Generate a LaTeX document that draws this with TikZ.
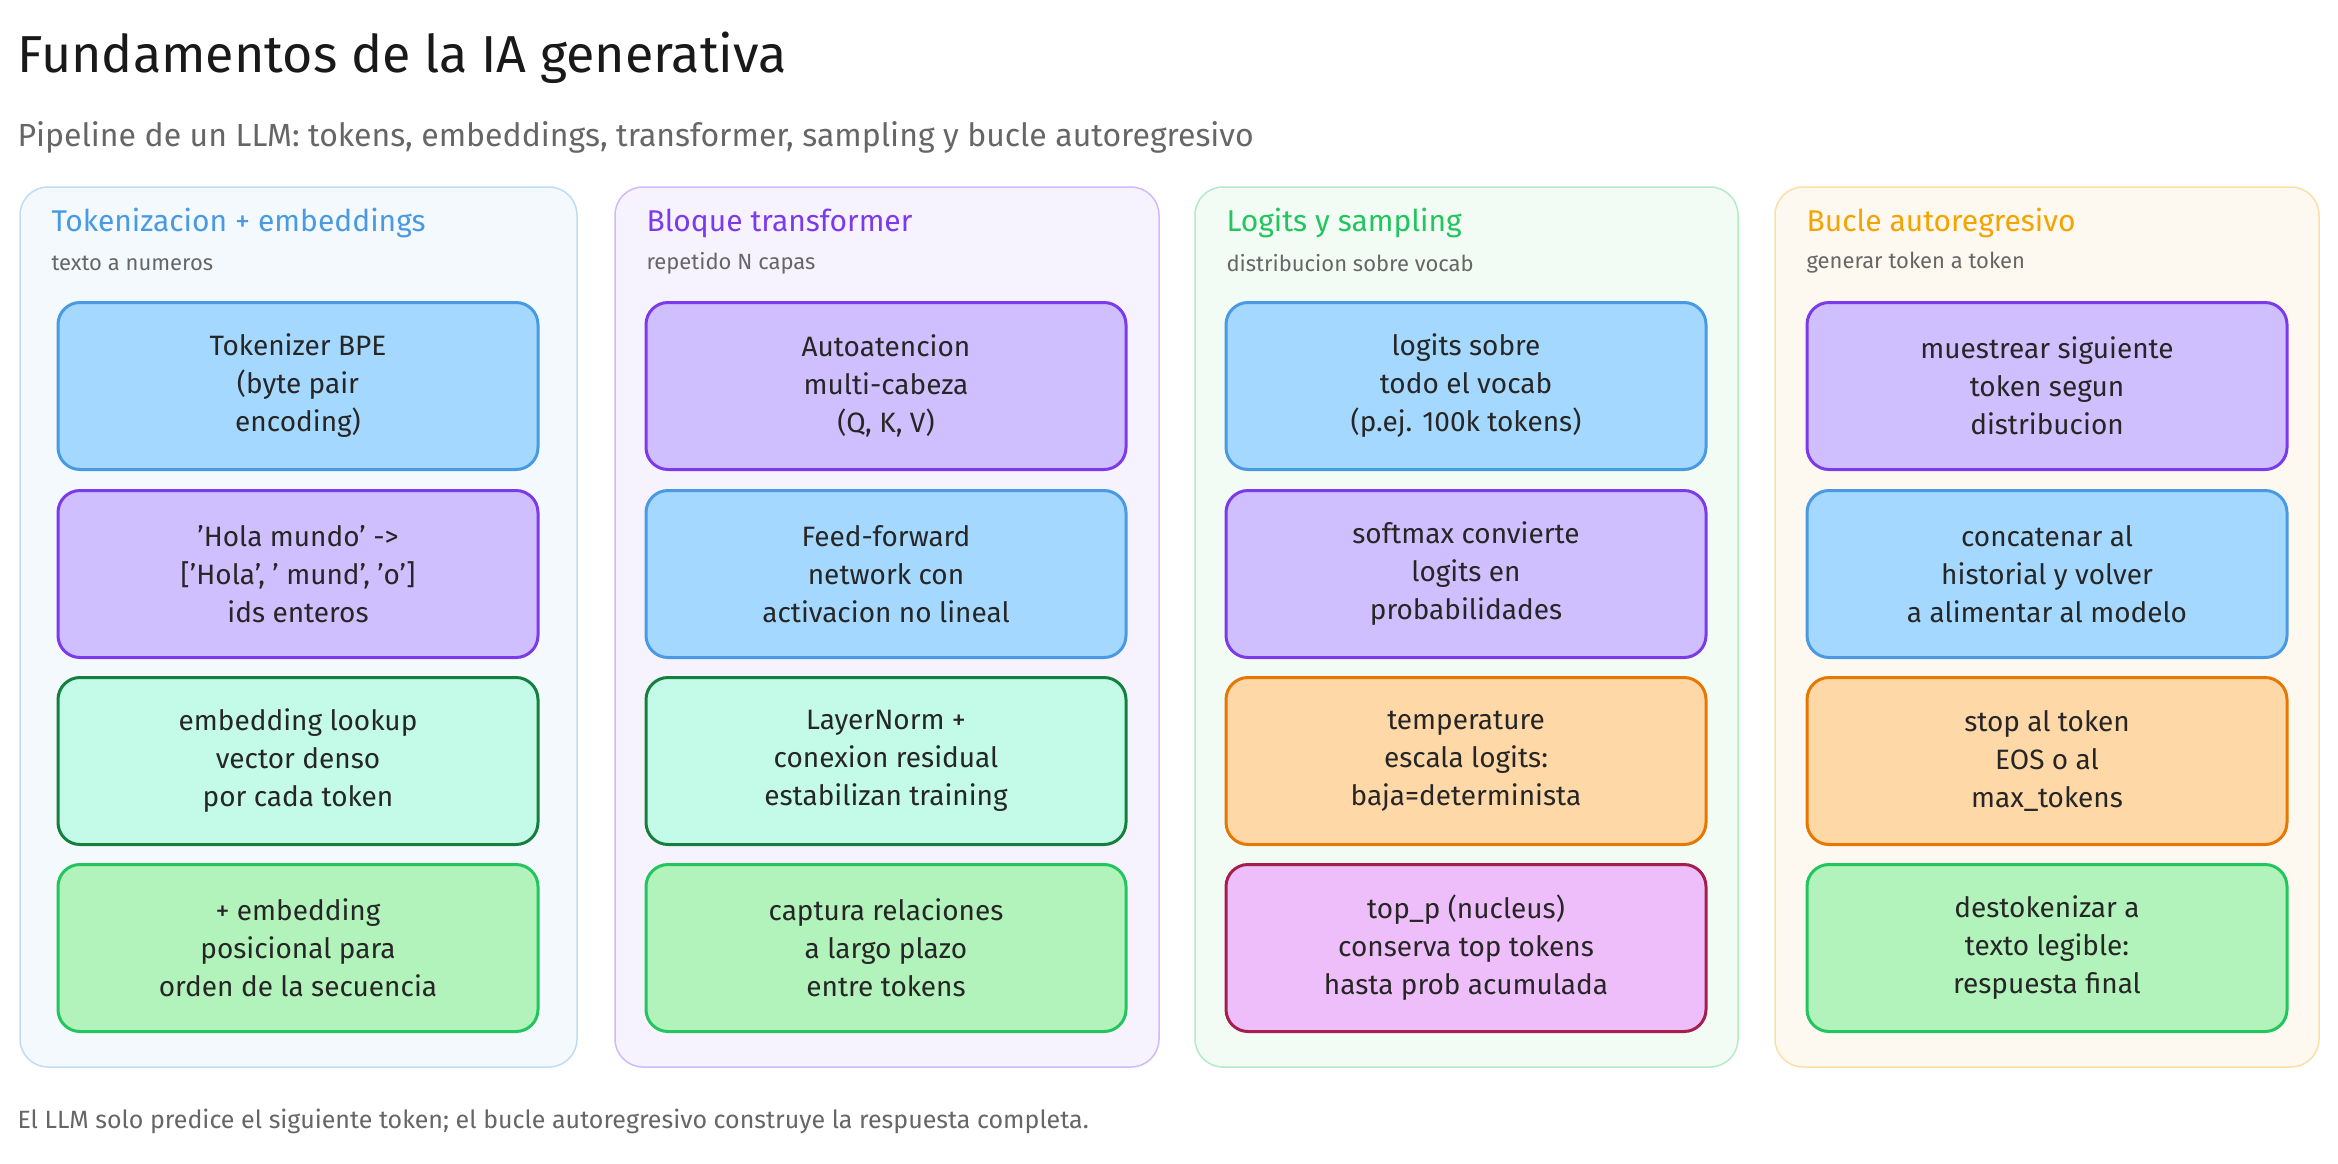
\documentclass[tikz,border=0pt]{standalone}
\usepackage{fontspec}
\setmainfont{Fira Sans}
\begin{document}
\begin{tikzpicture}[x=1pt,y=-1pt,
  col/.style={draw=#1!35, fill=#1!6, line width=1.5pt, rounded corners=28pt},
  bx/.style 2 args={draw=#1, fill=#2, line width=3pt, rounded corners=22pt, minimum width=322pt, minimum height=112pt, align=center, font=\fontsize{28}{38}\selectfont, text=black!85},
  hd/.style={anchor=west, font=\fontsize{30}{34}\selectfont, text=#1},
  sh/.style={anchor=west, font=\fontsize{22}{26}\selectfont, text=black!60}]
\definecolor{cblue}{HTML}{4A9AE3}\definecolor{fblue}{HTML}{A5D8FF}
\definecolor{cpur}{HTML}{7C3AED}\definecolor{fpur}{HTML}{D0BFFF}
\definecolor{cteal}{HTML}{15803D}\definecolor{fteal}{HTML}{C3FAE8}
\definecolor{cgrn}{HTML}{22C55E}\definecolor{fgrn}{HTML}{B2F2BB}
\definecolor{corg}{HTML}{E67700}\definecolor{forg}{HTML}{FFD8A8}
\definecolor{cpink}{HTML}{A61E4D}\definecolor{fpink}{HTML}{EEBEFA}
\definecolor{hyel}{HTML}{F5A300}
\useasboundingbox[fill=white] (0,0) rectangle (2338,1163);
\node[anchor=west, font=\fontsize{52}{58}\selectfont, text=black!90] (title) at (14,58) {Fundamentos de la IA generativa};
\node[anchor=west, font=\fontsize{32}{38}\selectfont, text=black!60] (sub) at (14,137) {Pipeline de un LLM: tokens, embeddings, transformer, sampling y bucle autoregresivo};
\node[anchor=west, font=\fontsize{25}{30}\selectfont, text=black!60] (foot) at (14,1121) {El LLM solo predice el siguiente token; el bucle autoregresivo construye la respuesta completa.};
% columns
\draw[col=cblue] (20,187) rectangle (577,1067);
\draw[col=cpur] (615,187) rectangle (1159,1067);
\draw[col=cgrn] (1195,187) rectangle (1738,1067);
\draw[col=hyel] (1775,187) rectangle (2319,1067);
\node[hd=cblue] (h1) at (48,223) {Tokenizacion + embeddings};
\node[sh] (s1) at (48,263) {texto a numeros};
\node[hd=cpur] (h2) at (643,223) {Bloque transformer};
\node[sh] (s2) at (643,263) {repetido N capas};
\node[hd=cgrn] (h3) at (1223,223) {Logits y sampling};
\node[sh] (s3) at (1223,263) {distribucion sobre vocab};
\node[hd=hyel] (h4) at (1803,223) {Bucle autoregresivo};
\node[sh] (s4) at (1803,263) {generar token a token};
\tikzset{bx/.append style={minimum width=480pt, minimum height=167pt}}
% col1
\node[bx={cblue}{fblue}] (a1) at (298,386) {Tokenizer BPE\\(byte pair\\encoding)};
\node[bx={cpur}{fpur}] (a2) at (298,574) {'Hola mundo' ->\\\relax['Hola', ' mund', 'o']\\ids enteros};
\node[bx={cteal}{fteal}] (a3) at (298,761) {embedding lookup\\vector denso\\por cada token};
\node[bx={cgrn}{fgrn}] (a4) at (298,948) {+ embedding\\posicional para\\orden de la secuencia};
% col2
\node[bx={cpur}{fpur}] (b1) at (886,386) {Autoatencion\\multi-cabeza\\(Q, K, V)};
\node[bx={cblue}{fblue}] (b2) at (886,574) {Feed-forward\\network con\\activacion no lineal};
\node[bx={cteal}{fteal}] (b3) at (886,761) {LayerNorm +\\conexion residual\\estabilizan training};
\node[bx={cgrn}{fgrn}] (b4) at (886,948) {captura relaciones\\a largo plazo\\entre tokens};
% col3
\node[bx={cblue}{fblue}] (c1) at (1466,386) {logits sobre\\todo el vocab\\(p.ej. 100k tokens)};
\node[bx={cpur}{fpur}] (c2) at (1466,574) {softmax convierte\\logits en\\probabilidades};
\node[bx={corg}{forg}] (c3) at (1466,761) {temperature\\escala logits:\\baja=determinista};
\node[bx={cpink}{fpink}] (c4) at (1466,948) {top\_p (nucleus)\\conserva top tokens\\hasta prob acumulada};
% col4
\node[bx={cpur}{fpur}] (d1) at (2047,386) {muestrear siguiente\\token segun\\distribucion};
\node[bx={cblue}{fblue}] (d2) at (2047,574) {concatenar al\\historial y volver\\a alimentar al modelo};
\node[bx={corg}{forg}] (d3) at (2047,761) {stop al token\\EOS o al\\max\_tokens};
\node[bx={cgrn}{fgrn}] (d4) at (2047,948) {destokenizar a\\texto legible:\\respuesta final};
\end{tikzpicture}
\end{document}
